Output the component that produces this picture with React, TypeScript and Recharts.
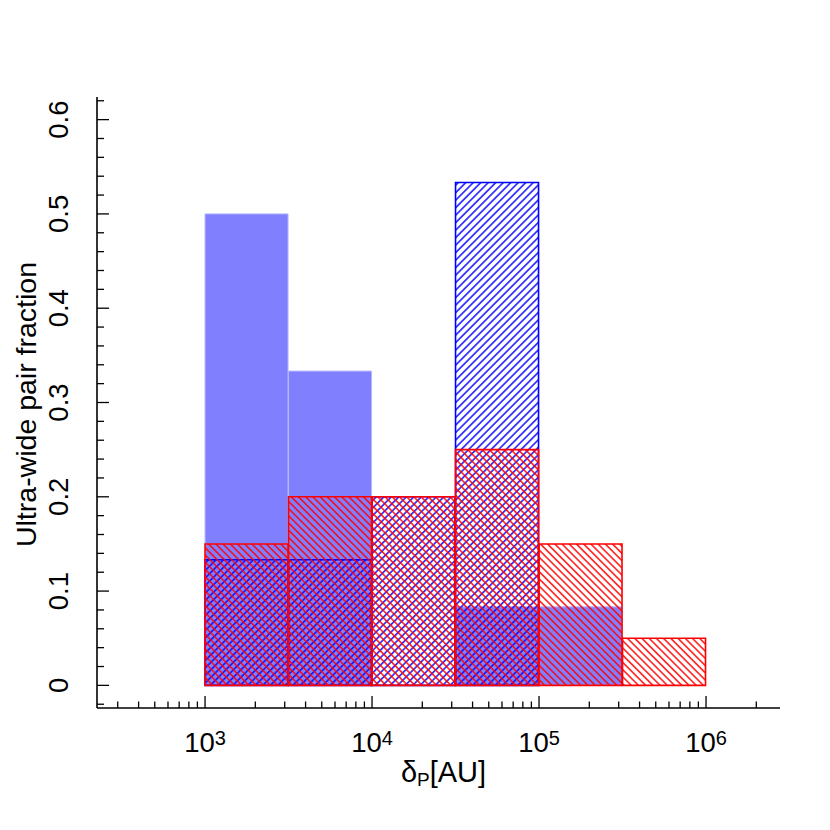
import React from 'react';
import { ComposedChart, Bar, XAxis, YAxis } from 'recharts';

// Histogram bins (log10 of separation in AU)
const binLo = [3, 3.5, 4, 4.5, 5, 5.5];
const binHi = [3.5, 4, 4.5, 5, 5.5, 6];
// Series values (fractions)
const blueFilled: (number | null)[] = [0.5, 0.3333, null, 0.0833, 0.0833, null];
const blueHatched: (number | null)[] = [0.1333, 0.1333, 0.2, 0.5333, null, null];
const redHatched: (number | null)[] = [0.15, 0.2, 0.2, 0.25, 0.15, 0.05];

// Axis ticks
const xMajorTicks = [1e3, 1e4, 1e5, 1e6];
const xMajorExponents = ['3', '4', '5', '6'];
const xMinorTicks = [
  300, 400, 500, 600, 700, 800, 900,
  2000, 3000, 4000, 5000, 6000, 7000, 8000, 9000,
  20000, 30000, 40000, 50000, 60000, 70000, 80000, 90000,
  200000, 300000, 400000, 500000, 600000, 700000, 800000, 900000,
  2000000,
];
const yMajorTicks = [0, 0.1, 0.2, 0.3, 0.4, 0.5, 0.6];
const yMajorLabels = ['0', '0.1', '0.2', '0.3', '0.4', '0.5', '0.6'];
const yMinorTicks = [
  -0.02, 0.02, 0.04, 0.06, 0.08, 0.12, 0.14, 0.16, 0.18, 0.22, 0.24, 0.26, 0.28,
  0.32, 0.34, 0.36, 0.38, 0.42, 0.44, 0.46, 0.48, 0.52, 0.54, 0.56, 0.58, 0.62,
];

const X_DOMAIN: [number, number] = [2.353, 6.443];
const Y_DOMAIN: [number, number] = [-0.024, 0.624];

const xMajorLog = xMajorTicks.map((v) => Math.log10(v));
const xAllTicks = [...xMinorTicks.map((v) => Math.log10(v)), ...xMajorLog].sort((a, b) => a - b);
const yAllTicks = [...yMinorTicks, ...yMajorTicks].sort((a, b) => a - b);

const data = binLo.map((lo, i) => ({
  c: (lo + binHi[i]) / 2,
  bf: blueFilled[i],
  bh: blueHatched[i],
  rh: redHatched[i],
}));

const NARROW = '"Liberation Sans Narrow", "Arial Narrow", "Liberation Sans", Arial, sans-serif';
const REGULAR = '"Liberation Sans", Arial, Helvetica, sans-serif';

const XTick = (props: any) => {
  const { x, y, payload } = props;
  const idx = xMajorLog.findIndex((t) => Math.abs(t - payload.value) < 1e-9);
  const major = idx >= 0;
  return (
    <g>
      <line x1={x} x2={x} y1={y} y2={y - (major ? 12 : 6.5)} stroke="#000" strokeWidth={1.3} />
      {major && (
        <text x={x} y={y + 44} textAnchor="middle" fontSize={27.5} fontFamily={NARROW} fill="#000">
          10
          <tspan dy={-7} fontSize={20}>
            {xMajorExponents[idx]}
          </tspan>
        </text>
      )}
    </g>
  );
};

const YTick = (props: any) => {
  const { x, y, payload } = props;
  const idx = yMajorTicks.findIndex((t) => Math.abs(t - payload.value) < 1e-9);
  const major = idx >= 0;
  const tx = x - 29;
  return (
    <g>
      <line x1={x} x2={x + (major ? 12 : 7)} y1={y} y2={y} stroke="#000" strokeWidth={1.3} />
      {major && (
        <text
          x={tx}
          y={y}
          transform={`rotate(-90 ${tx} ${y})`}
          textAnchor="middle"
          fontSize={27.5}
          fontFamily={NARROW}
          fill="#000"
        >
          {yMajorLabels[idx]}
        </text>
      )}
    </g>
  );
};

const XTitle = (props: any) => {
  const vb = props.viewBox || {};
  const cx = (vb.x ?? 97) + (vb.width ?? 683) / 2 + 5;
  const by = (vb.y ?? 708) + 74;
  return (
    <text x={cx} y={by} textAnchor="middle" fontSize={29} fontFamily={REGULAR} fill="#000">
      δ
      <tspan dy={4} fontSize={19}>P</tspan>
      <tspan dy={-4}>[AU]</tspan>
    </text>
  );
};

const YTitle = (props: any) => {
  const vb = props.viewBox || {};
  const cy = (vb.y ?? 97) + (vb.height ?? 611) / 2 + 2;
  const bx = 36;
  return (
    <text
      x={bx}
      y={cy}
      transform={`rotate(-90 ${bx} ${cy})`}
      textAnchor="middle"
      fontSize={28.5}
      fontFamily={REGULAR}
      fill="#000"
    >
      Ultra-wide pair fraction
    </text>
  );
};

export default function App() {
  return (
    <div style={{ position: 'absolute', left: 0, top: 0, width: 830, height: 830, background: '#fff' }}>
      <ComposedChart
        width={830}
        height={830}
        data={data}
        margin={{ top: 97, right: 50, left: 37, bottom: 62 }}
        barCategoryGap={0}
        barGap={0}
      >
        <defs>
          <pattern id="blueHatch" width={5.3} height={5.3} patternUnits="userSpaceOnUse" patternTransform="rotate(45)">
            <line x1={2.65} y1={0} x2={2.65} y2={5.3} stroke="#0000ff" strokeWidth={1.4} />
          </pattern>
          <pattern id="redHatch" width={5.1} height={5.1} patternUnits="userSpaceOnUse" patternTransform="rotate(-45)">
            <line x1={2.55} y1={0} x2={2.55} y2={5.1} stroke="#ff0000" strokeWidth={1.4} />
          </pattern>
        </defs>
        <XAxis
          xAxisId="rh"
          type="number"
          dataKey="c"
          domain={X_DOMAIN}
          allowDataOverflow
          ticks={xAllTicks}
          interval={0}
          tick={<XTick />}
          tickSize={0}
          tickMargin={0}
          tickLine={false}
          axisLine={{ stroke: '#000', strokeWidth: 1.6 }}
          height={60}
          label={<XTitle />}
        />
        <XAxis xAxisId="bf" type="number" dataKey="c" domain={X_DOMAIN} allowDataOverflow hide height={0} />
        <XAxis xAxisId="bh" type="number" dataKey="c" domain={X_DOMAIN} allowDataOverflow hide height={0} />
        <YAxis
          type="number"
          domain={Y_DOMAIN}
          allowDataOverflow
          ticks={yAllTicks}
          interval={0}
          tick={<YTick />}
          tickSize={0}
          tickMargin={0}
          tickLine={false}
          axisLine={{ stroke: '#000', strokeWidth: 1.6 }}
          width={60}
          label={<YTitle />}
        />
        <Bar xAxisId="bf" dataKey="bf" fill="#8080ff" stroke="#b4b4ff" strokeWidth={1} isAnimationActive={false} />
        <Bar xAxisId="bh" dataKey="bh" fill="url(#blueHatch)" stroke="#0000ff" strokeWidth={1.6} isAnimationActive={false} />
        <Bar xAxisId="rh" dataKey="rh" fill="url(#redHatch)" stroke="#ff0000" strokeWidth={1.6} isAnimationActive={false} />
      </ComposedChart>
    </div>
  );
}
